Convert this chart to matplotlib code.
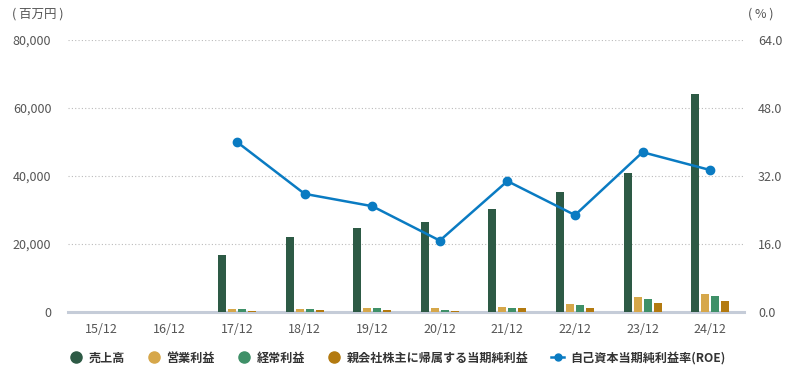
import matplotlib
matplotlib.use("Agg")
import matplotlib.pyplot as plt
from matplotlib.lines import Line2D
import numpy as np

plt.rcParams['font.family'] = ['Noto Sans CJK JP', 'DejaVu Sans']

categories = ["15/12", "16/12", "17/12", "18/12", "19/12", "20/12", "21/12", "22/12", "23/12", "24/12"]
sales = [0, 0, 16700, 22200, 24700, 26400, 30300, 35300, 40900, 64100]
operating = [0, 0, 900, 900, 1200, 1200, 1500, 2400, 4400, 5300]
ordinary = [0, 0, 900, 900, 1200, 600, 1200, 2100, 3800, 4700]
net = [0, 0, 300, 600, 700, 300, 1100, 1200, 2600, 3200]
roe = [None, None, 40.0, 27.8, 24.9, 16.8, 30.8, 22.8, 37.6, 33.4]

series_names = ["売上高", "営業利益", "経常利益", "親会社株主に帰属する当期純利益"]
roe_name = "自己資本当期純利益率(ROE)"
colors = ["#2d5a45", "#d6a74a", "#3f9068", "#b37a10"]
roe_color = "#0a7bc2"
text_color = "#555555"

fig = plt.figure(figsize=(7.88, 3.72), dpi=100)
ax = fig.add_axes([68/788, 60/372, (744-68)/788, 272/372])
ax2 = ax.twinx()

x = np.arange(len(categories))
bw = 8/67.6
step = 10/67.6
offsets = [-1.5*step, -0.5*step, 0.5*step, 1.5*step]
for vals, c, off in zip([sales, operating, ordinary, net], colors, offsets):
    ax.bar(x + off, vals, width=bw, color=c, zorder=3)

ax.set_xlim(-0.5, len(categories) - 0.5)
ax.set_ylim(0, 80000)
ax.set_yticks([0, 20000, 40000, 60000, 80000])
ax.set_yticklabels(["0", "20,000", "40,000", "60,000", "80,000"])
ax.set_xticks(x)
ax.set_xticklabels(categories)
ax.grid(axis='y', color='#bbbbbb', linestyle=(0, (1, 2)), linewidth=0.8, zorder=0)
for s in ['top', 'right', 'left']:
    ax.spines[s].set_visible(False)
ax.spines['bottom'].set_color('#c5ccd8')
ax.spines['bottom'].set_linewidth(2.2)
ax.tick_params(axis='both', length=0, colors=text_color, labelsize=9)
ax.tick_params(axis='x', pad=8)
ax.tick_params(axis='y', pad=12)

xr = [i for i, v in enumerate(roe) if v is not None]
yr = [v for v in roe if v is not None]
ax2.plot(xr, yr, color=roe_color, linewidth=1.8, marker='o', markersize=6, zorder=5)
ax2.set_ylim(0, 64)
ax2.set_yticks([0, 16, 32, 48, 64])
ax2.set_yticklabels(["0.0", "16.0", "32.0", "48.0", "64.0"])
for s in ['top', 'right', 'left', 'bottom']:
    ax2.spines[s].set_visible(False)
ax2.tick_params(axis='y', length=0, colors=text_color, labelsize=9, pad=10)

fig.text(12/788, 1 - 14/372, "( 百万円 )", color=text_color, fontsize=9, va='center', ha='left')
fig.text(774/788, 1 - 14/372, "( % )", color=text_color, fontsize=9, va='center', ha='right')

handles = [Line2D([0], [0], marker='o', linestyle='', markersize=8, markerfacecolor=c, markeredgecolor=c) for c in colors]
handles.append(Line2D([0], [0], color=roe_color, linewidth=1.8, marker='o', markersize=5))
fig.legend(handles, series_names + [roe_name], loc='center', bbox_to_anchor=(0.504, 1 - 358/372),
           ncol=5, frameon=False, handlelength=1.1, handletextpad=0.5, columnspacing=1.85,
           prop={'weight': 'bold', 'size': 8.7})
for t in fig.legends[0].get_texts():
    t.set_color('#333333')

fig.savefig("out.png", dpi=100)
